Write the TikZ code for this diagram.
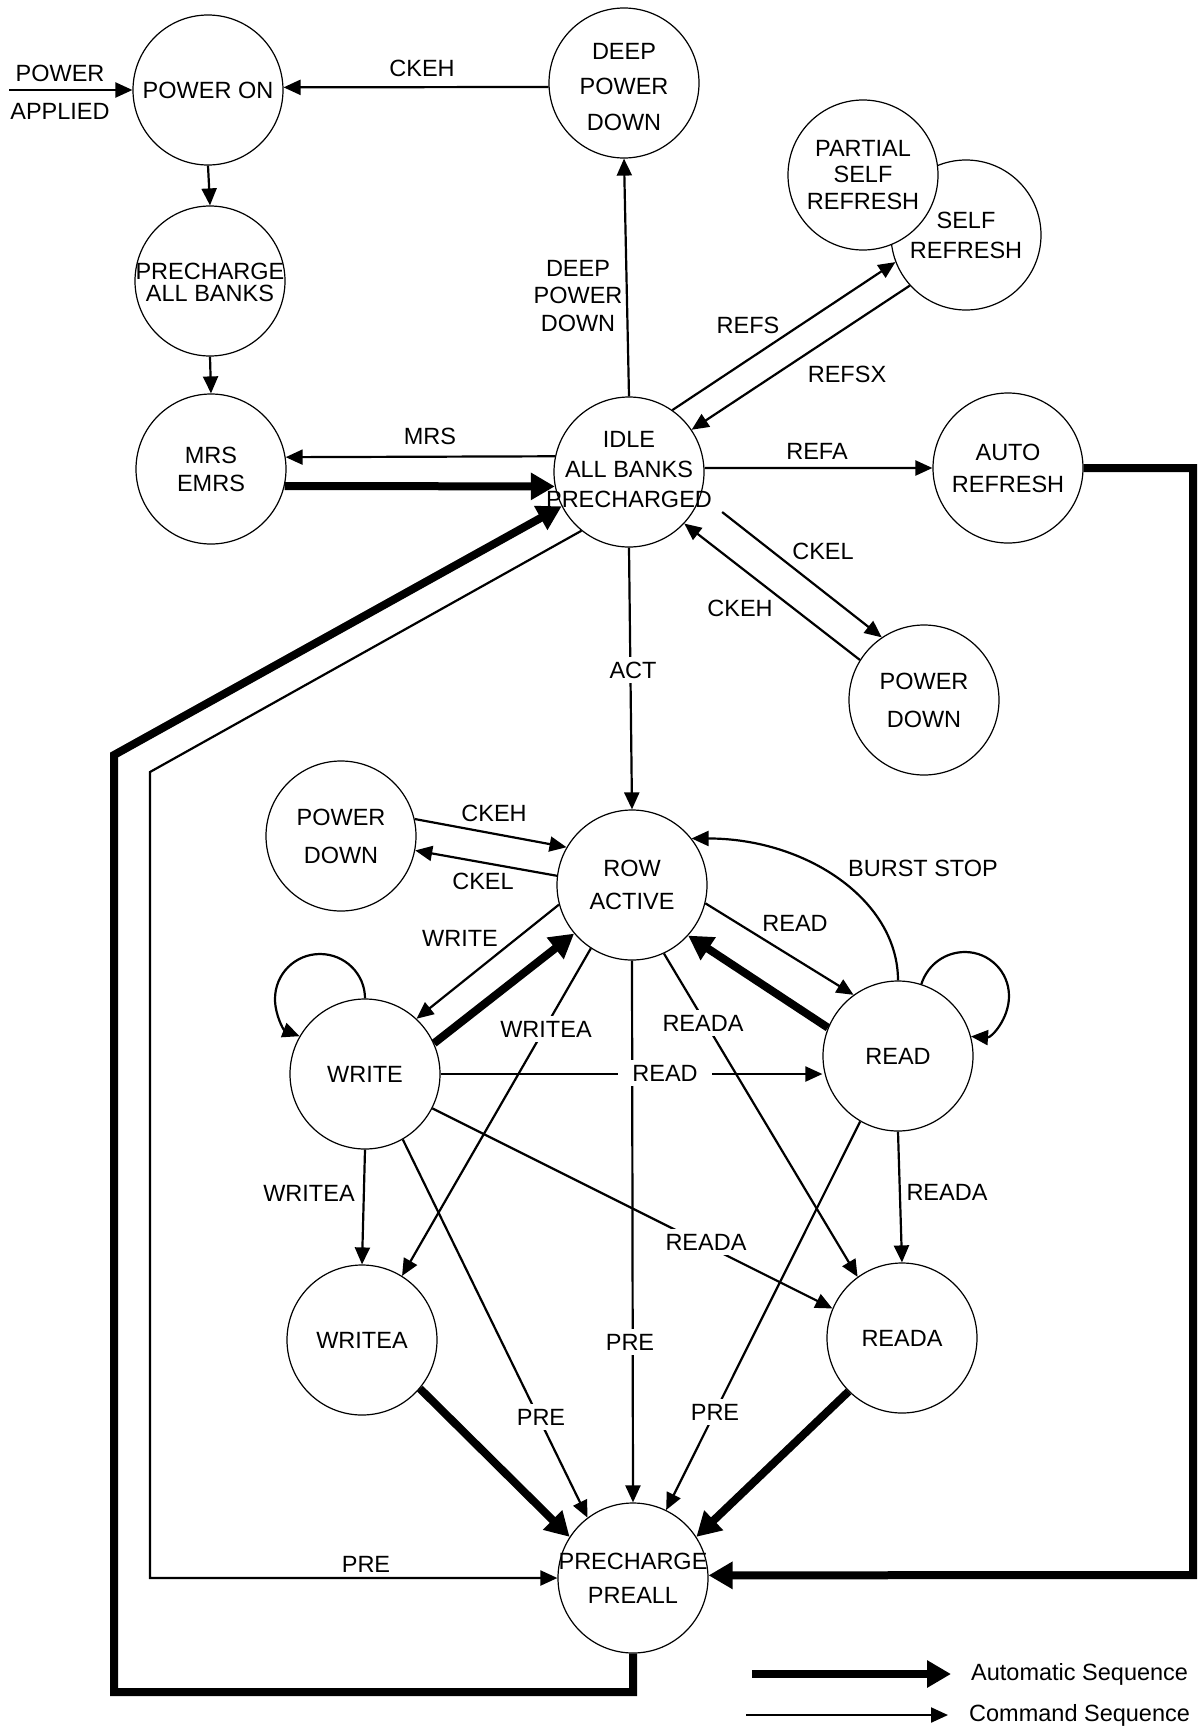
\documentclass[tikz,border=0pt]{standalone}
\usepackage{fontspec}
\setmainfont{Liberation Sans}
\usetikzlibrary{arrows.meta}
\begin{document}
\begin{tikzpicture}[x=1pt,y=-1pt,
  every node/.style={font=\fontsize{23.5}{28}\selectfont},
  ls/.style={font=\fontsize{23.5}{#1}\selectfont},
  st/.style={circle, draw, line width=1.2pt, minimum size=150pt, inner sep=0pt, align=center, fill=white},
  cmd/.style={line width=2.2pt, -{Triangle[length=17pt,width=15pt]}},
  autoseq/.style={line width=8pt, -{Triangle[length=24pt,width=26pt]}},
  wl/.style={fill=white, inner xsep=8pt, inner ysep=5pt}
]
\fill[white] (0,0) rectangle (1199,1735);
\useasboundingbox (0,0) rectangle (1199,1735);

% states
\node[st, ls=28] (pon) at (208,90) {POWER ON};
\node[st, label={[ls=35.5, align=center, yshift=-4pt]center:{DEEP\\POWER\\DOWN}}] (dpd) at (624,83) {};
\node[st, label={[ls=22, align=center, yshift=-1pt]center:{PRECHARGE\\ALL BANKS}}] (pab) at (210,281) {};
\node[st, ls=28] (mrs) at (211,469) {MRS\\EMRS};
\node[st, label={[ls=30, align=center, yshift=2pt]center:{IDLE\\ALL BANKS\\PRECHARGED}}] (idle) at (629,472) {};
\node[st, ls=30] (sr) at (966,235) {SELF\\REFRESH};
\node[st, ls=26.5] (psr) at (863,175) {PARTIAL\\SELF\\REFRESH};
\node[st, ls=32] (ar) at (1008,468) {AUTO\\REFRESH};
\node[st, ls=38] (pdr) at (924,700) {POWER\\DOWN};
\node[st, ls=38] (pdl) at (341,836) {POWER\\DOWN};
\node[st, ls=33] (row) at (632,885) {ROW\\ACTIVE};
\node[st] (wr) at (365,1074) {WRITE};
\node[st] (rd) at (898,1056) {READ};
\node[st] (wra) at (362,1340) {WRITEA};
\node[st] (rda) at (902,1338) {READA};
\node[st, label={[ls=34, align=center]center:{PRECHARGE\\PREALL}}] (pre) at (633,1578) {};

% helper coordinates
\coordinate (pa) at (9,90);
\coordinate (cl1) at (150,772);
\coordinate (cl2) at (114,1692);
\coordinate (cl3) at (114,755);
\coordinate (cr) at (1193,1575);

% top part
\draw[cmd] (pa) -- (pon.west);
\draw[cmd] (dpd.183) -- (pon.2);
\draw[cmd] (pon.south) -- (pab.north);
\draw[cmd] (pab.south) -- (mrs.north);
\draw[cmd] (idle.168) -- (mrs.9);
\draw[autoseq] (mrs.-13) -- (idle.191);
\draw[cmd] (idle.north) -- (dpd.south);
\draw[cmd] (idle.55) -- (sr.201);
\draw[cmd] (sr.222) -- (idle.34);
\draw[cmd] (idle.3) -- (ar.west);
\draw[cmd, shorten <=27pt] (idle.-18) -- (pdr.124);
\draw[cmd] (pdr.148) -- (idle.-43);
\draw[cmd] (idle.south) -- (row.north);

% row active area
\draw[cmd] (pdl.13) -- (row.150);
\draw[cmd] (row.173) -- (pdl.-11);
\draw[cmd] (row.195) -- (wr.47);
\draw[autoseq] (wr.24) -- (row.220);
\draw[cmd] (wr.90) .. controls (365,974) and (345,954) .. (320,954)
  .. controls (295,954) and (275,974) .. (275,999)
  .. controls (275,1015) and (283.6,1030) .. (wr.150);
\draw[cmd] (rd.72) .. controls (927.9,963.8) and (945.9,952) .. (965,952)
  .. controls (989.3,952) and (1009,971.7) .. (1009,996)
  .. controls (1009,1018.8) and (991.5,1037.8) .. (rd.15);
\draw[cmd] (rd.north) .. controls +(0,-80) and +(115,0) .. (row.38);
\draw[cmd] (row.-14) -- (rd.126);
\draw[autoseq] (rd.158) -- (row.-42);
\draw[cmd] (wr.east) -- (wr.east -| rd.west);
\draw[cmd] (row.237) -- (wra.58);
\draw[cmd] (row.-65) -- (rda.126);
\draw[cmd] (row.south) -- (pre.north);
\draw[cmd] (wr.south) -- (wra.north);
\draw[cmd] (wr.-27) -- (rda.157);
\draw[cmd] (wr.-60) -- (pre.127);
\draw[cmd] (rd.240) -- (pre.64);
\draw[cmd] (rd.south) -- (rda.north);
\draw[autoseq] (wra.-40) -- (pre.147);
\draw[autoseq] (rda.225) -- (pre.33);

% long returns
\draw[cmd] (idle.231) -- (cl1) |- (pre.west);
\draw[autoseq] (pre.south) |- (cl2) -- (cl3) -- (idle.207);
\draw[autoseq] (ar.east) -| (cr) -- (pre.2);

% labels
\node (l1) at (60,73) {POWER};
\node (l2) at (60,111) {APPLIED};
\node (l3) at (422,68) {CKEH};
\node[ls=27.5, align=center] (l4) at (578,296) {DEEP\\POWER\\DOWN};
\node (l5) at (748,325) {REFS};
\node (l6) at (847,374) {REFSX};
\node (l7) at (817,451) {REFA};
\node (l8) at (430,436) {MRS};
\node (l9) at (823,551) {CKEL};
\node (l10) at (740,608) {CKEH};
\node[wl] (l11) at (633,670) {ACT};
\node (l12) at (494,813) {CKEH};
\node (l13) at (483,881) {CKEL};
\node (l14) at (460,938) {WRITE};
\node (l15) at (795,923) {READ};
\node (l16) at (923,868) {BURST STOP};
\node[wl] (l17) at (546,1029) {WRITEA};
\node[wl] (l18) at (703,1023) {READA};
\node[wl, inner xsep=14pt] (l19) at (665,1073) {READ};
\node (l20) at (309,1193) {WRITEA};
\node (l21) at (947,1192) {READA};
\node[wl] (l22) at (706,1242) {READA};
\node[wl] (l23) at (630,1342) {PRE};
\node[wl] (l24) at (541,1417) {PRE};
\node[wl] (l25) at (715,1412) {PRE};
\node (l26) at (366,1564) {PRE};

% legend
\coordinate (la1) at (752,1674);
\coordinate (la2) at (951,1674);
\coordinate (lc1) at (746,1715);
\coordinate (lc2) at (948,1715);
\draw[autoseq] (la1) -- (la2);
\draw[cmd] (lc1) -- (lc2);
\node[anchor=west, inner sep=0pt, ls=28] (lat) at (971,1674) {Automatic Sequence};
\node[anchor=west, inner sep=0pt, ls=28] (lct) at (969,1715) {Command Sequence};
\end{tikzpicture}
\end{document}
